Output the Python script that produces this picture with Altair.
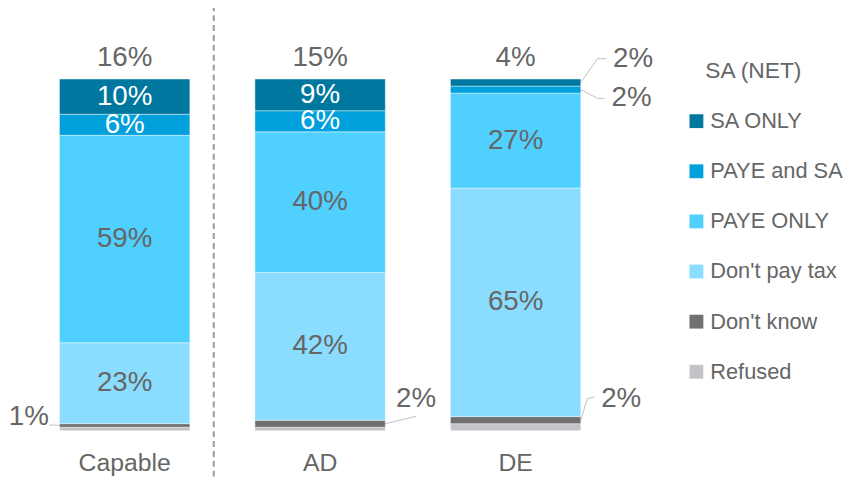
import altair as alt
import pandas as pd

# ---------------- data ----------------
groups = ["Capable", "AD", "DE"]
categories = ["SA ONLY", "PAYE and SA", "PAYE ONLY", "Don't pay tax", "Don't know", "Refused"]
sa_only = [10, 9, 2]
paye_and_sa = [6, 6, 2]
paye_only = [59, 40, 27]
dont_pay_tax = [23, 42, 65]
dont_know = [1, 2, 2]
refused = [1, 1, 2]
sa_net = [16, 15, 4]

colors = ["#00779F", "#00A0DC", "#50D0FF", "#8ADDFF", "#707070", "#C3C4C8"]
TEXT = "#666666"
FONT = "Liberation Sans"
HALF = 0.3335  # half bar width in x units

series = {
    "SA ONLY": sa_only,
    "PAYE and SA": paye_and_sa,
    "PAYE ONLY": paye_only,
    "Don't pay tax": dont_pay_tax,
    "Don't know": dont_know,
    "Refused": refused,
}
stack_order = ["Refused", "Don't know", "Don't pay tax", "PAYE ONLY", "PAYE and SA", "SA ONLY"]

rows = []
for gi, g in enumerate(groups):
    base = 0
    for cat in stack_order:
        v = series[cat][gi]
        rows.append({"group": g, "pos": gi, "cat": cat, "value": v,
                     "x": gi - HALF, "x2": gi + HALF,
                     "y": base, "y2": base + v, "mid": base + v / 2})
        base += v
bars_df = pd.DataFrame(rows)

inside_white = bars_df[bars_df["cat"].isin(["SA ONLY", "PAYE and SA"]) & (bars_df["value"] >= 5)].copy()
inside_gray = bars_df[bars_df["cat"].isin(["PAYE ONLY", "Don't pay tax"])].copy()
for d in (inside_white, inside_gray):
    d["label"] = d["value"].astype(int).astype(str) + "%"

top_df = pd.DataFrame({"pos": list(range(len(groups))), "label": [f"{v}%" for v in sa_net]})
top_df["y"] = 106.0

cat_df = pd.DataFrame({"pos": list(range(len(groups))), "label": groups})
cat_df["y"] = -9.3

out_labels = pd.DataFrame({
    "label": [f"{dont_know[0]}%", f"{dont_know[1]}%", f"{dont_know[2]}%", f"{sa_only[2]}%", f"{paye_and_sa[2]}%"],
    "x": [-0.49, 1.491, 2.540, 2.601, 2.593],
    "y": [3.8, 8.87, 8.87, 105.8, 94.5],
})
leaders = pd.DataFrame({
    "id": [0, 0, 0, 1, 1, 2, 2, 2, 3, 3, 3, 4, 4, 4],
    "x": [-0.385, -0.359, -0.3335, 1.3335, 1.491, 2.3335, 2.367, 2.4035,
          2.3335, 2.419, 2.4645, 2.3335, 2.419, 2.455],
    "y": [1.6, 1.6, 1.5, 2.0, 4.1, 3.0, 9.15, 9.6, 99.0, 105.8, 105.8, 97.0, 94.5, 94.5],
})

title_df = pd.DataFrame({"label": ["SA (NET)"], "x": [2.9705], "y": [102.4]})
sep_df = pd.DataFrame({"x": [0.4557], "y": [121.0], "y2": [-13.0]})

# plot area spans the whole svg (844 x 470)
xscale = alt.Scale(domain=[-0.5968, 3.67994], nice=False, zero=False)
yscale = alt.Scale(domain=[-12.817, 119.58], nice=False, zero=False)

bars = alt.Chart(bars_df).mark_bar(stroke="white", strokeWidth=0.6, strokeOpacity=0.7).encode(
    x=alt.X("x:Q", scale=xscale, axis=None),
    x2="x2:Q",
    y=alt.Y("y:Q", scale=yscale, axis=None),
    y2="y2:Q",
    color=alt.Color("cat:N", scale=alt.Scale(domain=categories, range=colors),
                    legend=alt.Legend(orient="none", legendX=684, legendY=101, title=None,
                                      symbolType="square", symbolSize=196, symbolStrokeWidth=0,
                                      labelFontSize=22, labelFont=FONT, labelColor=TEXT,
                                      labelOffset=3, rowPadding=28.6, padding=0)),
)


def text_layer(df, xf, yf, color, size=28, align="center"):
    return alt.Chart(df).mark_text(fontSize=size, font=FONT, color=color, baseline="middle", align=align).encode(
        x=alt.X(xf, scale=xscale, axis=None), y=alt.Y(yf, scale=yscale, axis=None), text="label:N")


txt_white = text_layer(inside_white, "pos:Q", "mid:Q", "white")
txt_gray = text_layer(inside_gray, "pos:Q", "mid:Q", TEXT)
txt_top = text_layer(top_df, "pos:Q", "y:Q", TEXT)
txt_out = text_layer(out_labels, "x:Q", "y:Q", TEXT)
txt_cat = text_layer(cat_df, "pos:Q", "y:Q", TEXT, size=25)
legend_title = text_layer(title_df, "x:Q", "y:Q", TEXT, size=23, align="left")

lead = alt.Chart(leaders).mark_line(color="#BFBFBF", strokeWidth=1).encode(
    x=alt.X("x:Q", scale=xscale, axis=None), y=alt.Y("y:Q", scale=yscale, axis=None), detail="id:N")

sep = alt.Chart(sep_df).mark_rule(color="#9A9BA0", strokeWidth=2, strokeDash=[6, 4]).encode(
    x=alt.X("x:Q", scale=xscale, axis=None), y=alt.Y("y:Q", scale=yscale, axis=None), y2="y2:Q")

chart = alt.layer(sep, bars, lead, txt_white, txt_gray, txt_top, txt_out, txt_cat, legend_title).properties(
    width=844, height=470,
    autosize=alt.AutoSizeParams(type="none"),
    padding=0,
).configure_view(stroke=None)

chart.save("out.html", embed_options={"renderer": "svg", "actions": False})
